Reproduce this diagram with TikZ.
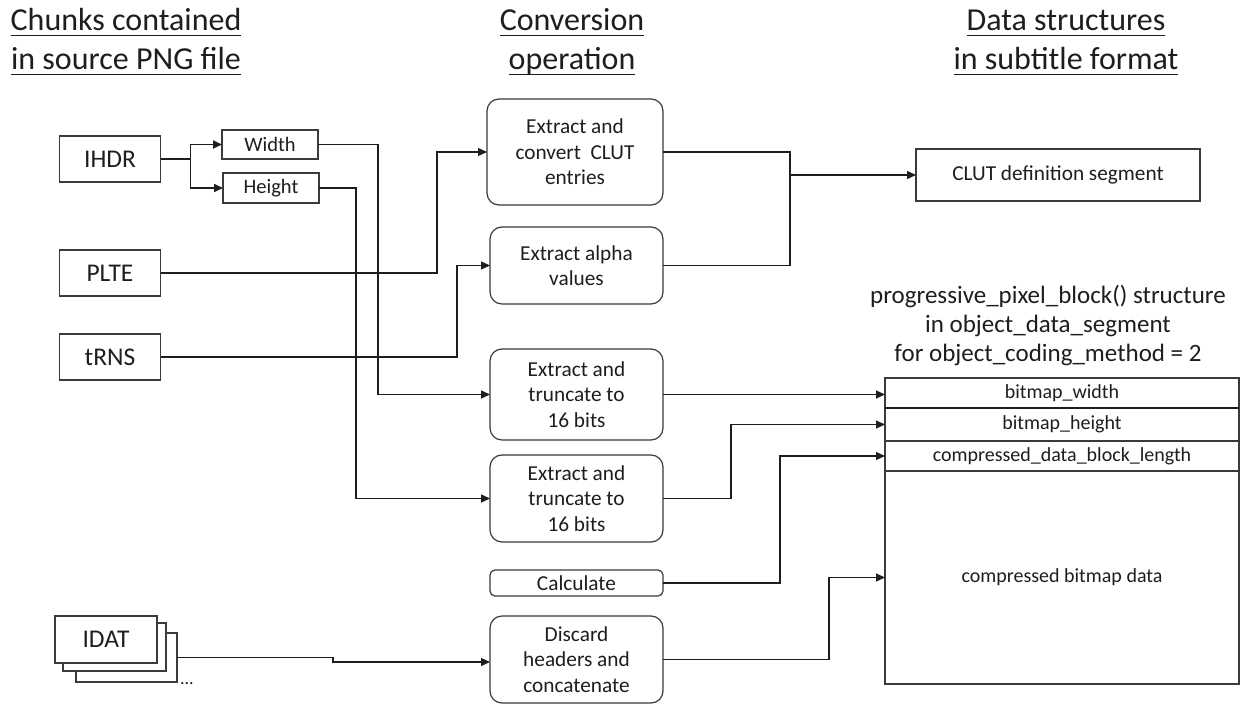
\documentclass[tikz,border=0pt]{standalone}
\usepackage{fontspec}
\setmainfont{Carlito}
\usetikzlibrary{arrows.meta,calc}

% underlined heading line with a fixed rule position
\newsavebox\hdbox
\newcommand\hdline[1]{\sbox\hdbox{#1}\rlap{\rule[-5.5pt]{\wd\hdbox}{1.6pt}}\usebox\hdbox}

\definecolor{ink}{HTML}{1E1E1E}
\definecolor{edge}{HTML}{3A3A3A}

\begin{document}
\begin{tikzpicture}[x=1pt,y=-1pt,
  every node/.style={inner sep=0pt, outer sep=0pt, text=ink},
  chunk/.style={draw=edge, line width=1.2pt, fill=white, minimum width=101pt,
    minimum height=46pt, font=\fontsize{25.5}{30}\selectfont},
  field/.style={draw=edge, line width=1.2pt, minimum width=96pt, minimum height=29pt,
    font=\fontsize{20.5}{24}\selectfont},
  opbox/.style={draw=edge, line width=1.2pt, rounded corners=12pt, minimum width=173pt,
    align=center, font=\fontsize{21.3}{25.5}\selectfont},
  seg/.style={draw=edge, line width=1.2pt, minimum width=354pt,
    font=\fontsize{20}{24}\selectfont},
  heading/.style={anchor=base, font=\fontsize{32}{38}\selectfont},
  wire/.style={line width=1.3pt, draw=ink},
  arr/.style={wire, -{Triangle[length=9pt,width=8pt]}},
]
\fill[white] (0,0) rectangle (1243,706);
\useasboundingbox (0,0) rectangle (1243,706);

% column headings
\node[heading] (h1a) at (126,31) {\hdline{Chunks contained}};
\node[heading] (h1b) at (126,70) {\hdline{in source PNG file}};
\node[heading] (h2a) at (572,31) {\hdline{Conversion}};
\node[heading] (h2b) at (572,70) {\hdline{operation}};
\node[heading] (h3a) at (1066,31) {\hdline{Data structures}};
\node[heading] (h3b) at (1066,70) {\hdline{in subtitle format}};

% PNG chunks
\node[chunk] (ihdr) at (110,159) {IHDR};
\node[field] (width) at (270,144.5) {Width};
\node[field, minimum height=30pt] (height) at (271,188) {Height};
\node[chunk] (plte) at (110,273) {PLTE};
\node[chunk] (trns) at (110,357) {tRNS};
\node[chunk, minimum height=49pt] (idat3) at (126.5,657.5) {};
\node[chunk, minimum width=103pt, minimum height=48pt] (idat2) at (114.5,647) {};
\node[chunk, minimum width=102pt, minimum height=47pt] (idat1) at (106,639.5) {IDAT};
\node[anchor=base west, font=\fontsize{18}{20}\selectfont] (dots) at (180,684) {...};

% conversion operations
\node[opbox, minimum width=176pt, minimum height=106pt] (clut) at (575,152)
  {Extract and\\convert~ CLUT\\entries};
\node[opbox, minimum height=77pt] (alpha) at (576.5,265.5) {Extract alpha\\values};
\node[opbox, minimum height=91pt] (trunc1) at (576.5,394.5) {Extract and\\truncate to\\16 bits};
\node[opbox, minimum height=87pt] (trunc2) at (576.5,498.5) {Extract and\\truncate to\\16 bits};
\node[opbox, rounded corners=5pt, minimum height=26pt] (calc) at (576.5,583) {Calculate};
\node[opbox, minimum height=87pt] (discard) at (576.5,659.5) {Discard\\headers and\\concatenate};

% subtitle data structures
\node[seg, minimum width=284pt, minimum height=52pt, font=\fontsize{21.3}{25}\selectfont]
  (clutdef) at (1058,175) {CLUT definition segment};
\node[align=center, font=\fontsize{25}{29}\selectfont] (prog) at (1048,326)
  {progressive\_pixel\_block() structure\\in object\_data\_segment\\for object\_coding\_method = 2};
\node[seg, minimum height=30pt] (bw) at (1062,393) {bitmap\_width};
\node[seg, minimum height=33pt] (bh) at (1062,424.5) {bitmap\_height};
\node[seg, minimum height=30pt] (cdbl) at (1062,456) {compressed\_data\_block\_length};
\node[seg, minimum height=213pt] (cbd) at (1062,577.5) {compressed bitmap data};
\draw[draw=ink, line width=2.2pt] (bw.south west) -- (bw.south east);

% connectors
\draw[wire, line width=2pt] (ihdr.east) -- ++(30,0) coordinate (ij);
\draw[arr, line width=1.8pt] (ij) |- (width.west);
\draw[arr, line width=1.8pt] (ij) |- (height.west);
\draw[arr, line width=1.6pt] (width.east) -- ++(60,0) |- (trunc1.west);
\draw[arr, line width=1.6pt] (height.east) -- ++(37,0) |- (trunc2.west);
\draw[arr] (plte.east) -| ($(clut.west)+(-50,0)$) -- (clut.west);
\draw[arr] (trns.east) -| ($(alpha.west)+(-33,0)$) -- (alpha.west);

\coordinate (mj) at (790,175);
\draw[wire] (clut.east) -| (mj);
\draw[wire] (alpha.east) -| (mj);
\draw[arr] (mj) -- (clutdef.west);

\draw[arr] (trunc1.east) -- (trunc1.east -| bw.west);
\draw[arr] (trunc2.east) -- ++(68,0) |- (bh.west);
\draw[arr] (calc.east) -- ++(117,0) |- (cdbl.west);
\draw[arr] (discard.east) -- ++(166,0) |- (cbd.west);
\draw[arr] (idat3.east) -- ++(156,0) |- ($(discard.west)+(0,2.5)$);
\end{tikzpicture}
\end{document}
